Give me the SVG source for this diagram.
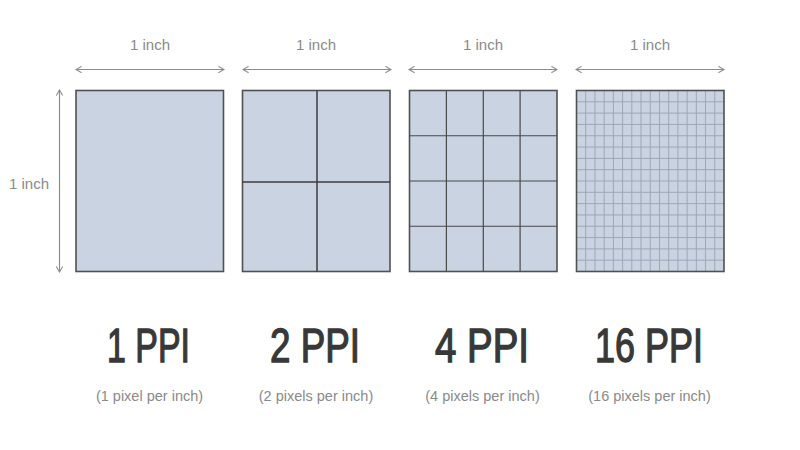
<svg xmlns="http://www.w3.org/2000/svg" width="800" height="450" viewBox="0 0 800 450">
<defs>
<style>
.bg{fill:#ffffff}
.box{fill:#c9d3e1;stroke:#505050;stroke-width:1.6}
.g2{stroke:#3c3c3c;stroke-width:1.5;fill:none}
.g4{stroke:#4a4a4a;stroke-width:1.2;fill:none}
.g16{stroke:#9ea7b5;stroke-width:1;fill:none}
.dim{stroke:#8c8c8c;stroke-width:1.2;fill:none}
.lbl{font-family:"Liberation Sans",Arial,sans-serif;font-size:15px;fill:#8a8a8a;text-anchor:middle}
.big{font-family:"Liberation Sans",Arial,sans-serif;font-size:49px;fill:#383838;stroke:#383838;stroke-width:1.4;text-anchor:middle}
.sub{font-family:"Liberation Sans",Arial,sans-serif;font-size:14.5px;fill:#8a8a8a;text-anchor:middle}
</style>
<marker id="chev" viewBox="0 0 10 10" refX="9" refY="5" markerWidth="8" markerHeight="8" markerUnits="userSpaceOnUse" orient="auto-start-reverse">
<path d="M2,1 L9,5 L2,9" fill="none" stroke="#8c8c8c" stroke-width="1.3"/>
</marker>
</defs>
<rect class="bg" x="0" y="0" width="800" height="450"/>

<g id="connectors">
<line class="dim" x1="76" y1="69.5" x2="224" y2="69.5" marker-start="url(#chev)" marker-end="url(#chev)"/>
<line class="dim" x1="243" y1="69.5" x2="391" y2="69.5" marker-start="url(#chev)" marker-end="url(#chev)"/>
<line class="dim" x1="409" y1="69.5" x2="557" y2="69.5" marker-start="url(#chev)" marker-end="url(#chev)"/>
<line class="dim" x1="576" y1="69.5" x2="724" y2="69.5" marker-start="url(#chev)" marker-end="url(#chev)"/>
<line class="dim" x1="59.5" y1="90" x2="59.5" y2="272" marker-start="url(#chev)" marker-end="url(#chev)"/>
</g>

<g id="dim-labels">
<text class="lbl" x="150" y="50">1 inch</text>
<text class="lbl" x="316" y="50">1 inch</text>
<text class="lbl" x="483" y="50">1 inch</text>
<text class="lbl" x="650" y="50">1 inch</text>
<text class="lbl" x="29" y="189">1 inch</text>
</g>

<g id="ppi1">
<rect class="box" x="76" y="90.5" width="147.5" height="181"/>
<text class="big" x="148.5" y="362" textLength="83" lengthAdjust="spacingAndGlyphs">1 PPI</text>
<text class="sub" x="149.5" y="401">(1 pixel per inch)</text>
</g>

<g id="ppi2">
<rect class="box" x="242.5" y="90.5" width="147.5" height="181"/>
<path class="g2" d="M317,90.5 V271.5 M242.5,182 H390"/>
<text class="big" x="315" y="362" textLength="90" lengthAdjust="spacingAndGlyphs">2 PPI</text>
<text class="sub" x="316" y="401">(2 pixels per inch)</text>
</g>

<g id="ppi4">
<rect class="box" x="409.5" y="90.5" width="147.5" height="181"/>
<path class="g4" d="M446.4,90.5 V271.5 M483.3,90.5 V271.5 M520.1,90.5 V271.5 M409.5,135.75 H557 M409.5,181 H557 M409.5,226.25 H557"/>
<text class="big" x="482" y="362" textLength="94" lengthAdjust="spacingAndGlyphs">4 PPI</text>
<text class="sub" x="482.5" y="401">(4 pixels per inch)</text>
</g>

<g id="ppi16">
<rect class="box" x="576.5" y="90.5" width="147.5" height="181" style="stroke:none"/>
<path class="g16" d="M585.72,90.5 V271.5 M594.94,90.5 V271.5 M604.16,90.5 V271.5 M613.38,90.5 V271.5 M622.59,90.5 V271.5 M631.81,90.5 V271.5 M641.03,90.5 V271.5 M650.25,90.5 V271.5 M659.47,90.5 V271.5 M668.69,90.5 V271.5 M677.91,90.5 V271.5 M687.13,90.5 V271.5 M696.34,90.5 V271.5 M705.56,90.5 V271.5 M714.78,90.5 V271.5 M576.5,101.81 H724 M576.5,113.13 H724 M576.5,124.44 H724 M576.5,135.75 H724 M576.5,147.06 H724 M576.5,158.38 H724 M576.5,169.69 H724 M576.5,181 H724 M576.5,192.31 H724 M576.5,203.63 H724 M576.5,214.94 H724 M576.5,226.25 H724 M576.5,237.56 H724 M576.5,248.88 H724 M576.5,260.19 H724"/>
<rect class="box" x="576.5" y="90.5" width="147.5" height="181" style="fill:none"/>
<text class="big" x="649" y="362" textLength="108" lengthAdjust="spacingAndGlyphs">16 PPI</text>
<text class="sub" x="649.5" y="401">(16 pixels per inch)</text>
</g>
</svg>
